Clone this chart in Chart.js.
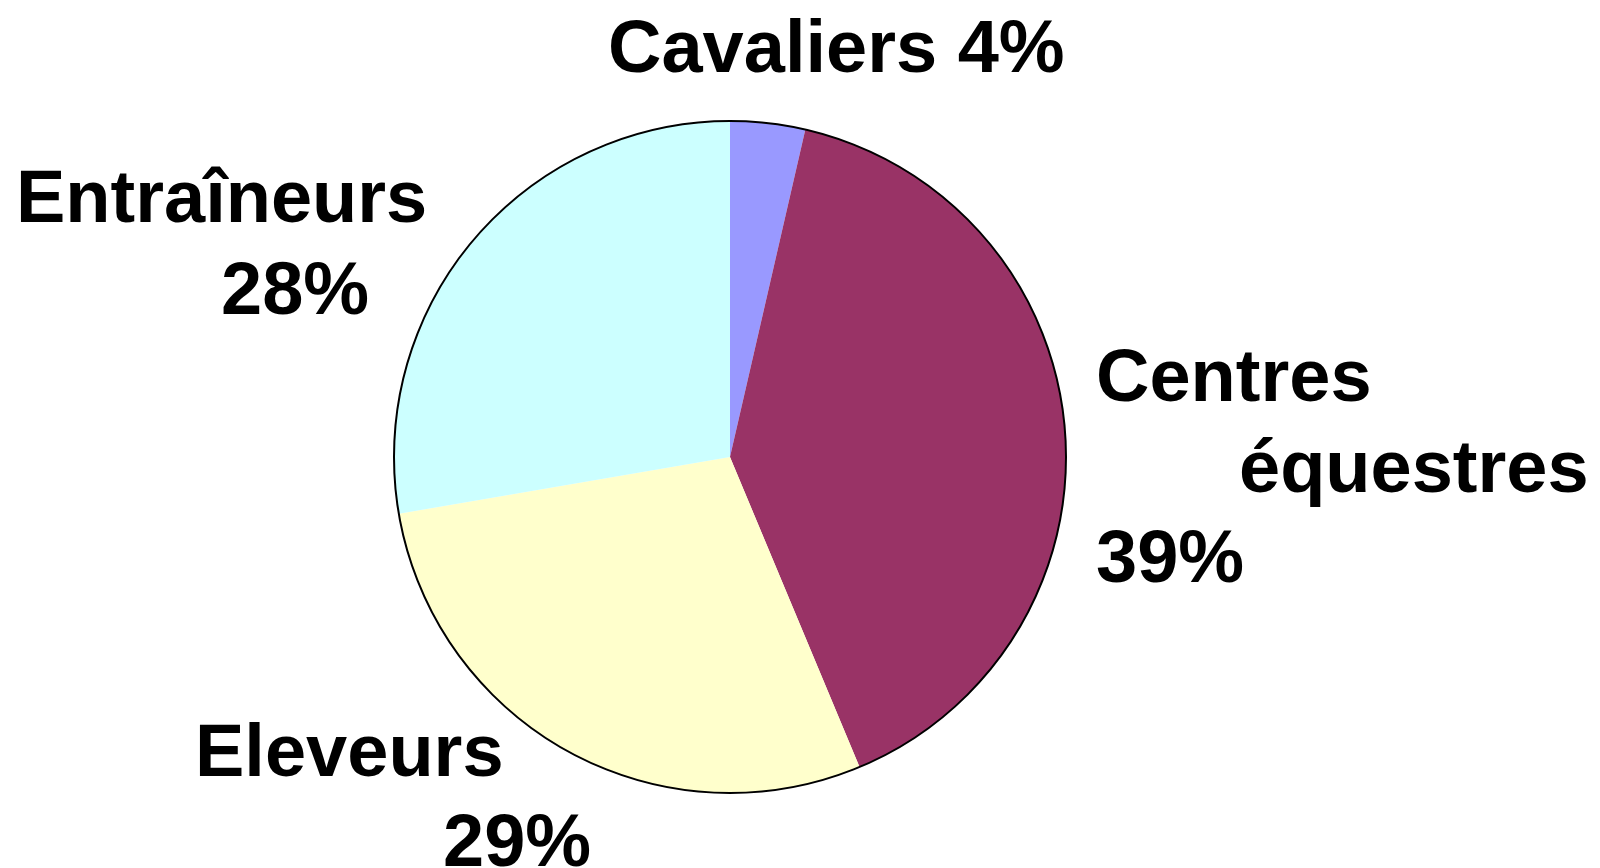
<!DOCTYPE html>
<html>
<head>
<meta charset="utf-8">
<script src="https://cdn.jsdelivr.net/npm/chart.js@4/dist/chart.umd.min.js"></script>
<style>
  html, body { margin: 0; padding: 0; background: #ffffff; }
  #wrap { width: 1600px; height: 868px; }
</style>
</head>
<body>
<div id="wrap"><canvas id="c" width="1600" height="868"></canvas></div>
<script>
// ---- data ----
const categories = ["Cavaliers", "Centres équestres", "Eleveurs", "Entraîneurs"];
const values = [3.6, 40.1, 28.6, 27.7];
// percentages as printed on the labels
const printedPercents = ["4%", "39%", "29%", "28%"];
const sliceColors = ["#9999FF", "#993366", "#FFFFCC", "#CCFFFF"];
// label text, line by line
const labelLines = [
  ["Cavaliers " + printedPercents[0]],
  ["Centres", "équestres", printedPercents[1]],
  ["Eleveurs", printedPercents[2]],
  ["Entraîneurs", printedPercents[3]]
];

// ---- layout for label lines: [left x, baseline y] per line ----
const labelPos = [
  [[608, 72]],
  [[1096, 401], [1239, 492], [1096, 582]],
  [[195, 776], [443, 866]],
  [[16, 222], [221, 314]]
];

const outlinePlugin = {
  id: 'outline',
  afterDatasetsDraw(chart) {
    const meta = chart.getDatasetMeta(0);
    const arc = meta.data[0];
    if (!arc) return;
    const ctx = chart.ctx;
    ctx.save();
    ctx.beginPath();
    ctx.arc(arc.x, arc.y, arc.outerRadius, 0, Math.PI * 2);
    ctx.lineWidth = 2;
    ctx.strokeStyle = '#000000';
    ctx.stroke();
    ctx.restore();
  }
};

const labelPlugin = {
  id: 'sliceLabels',
  afterDraw(chart) {
    const ctx = chart.ctx;
    ctx.save();
    ctx.fillStyle = '#000000';
    ctx.font = 'bold 74px "Liberation Sans", Arial, sans-serif';
    ctx.textAlign = 'left';
    ctx.textBaseline = 'alphabetic';
    labelLines.forEach((lines, i) => {
      lines.forEach((txt, j) => {
        const p = labelPos[i][j];
        ctx.fillText(txt, p[0], p[1]);
      });
    });
    ctx.restore();
  }
};

new Chart(document.getElementById('c'), {
  type: 'pie',
  data: {
    labels: categories,
    datasets: [{
      data: values,
      backgroundColor: sliceColors,
      borderWidth: 0
    }]
  },
  options: {
    responsive: false,
    animation: false,
    layout: { padding: { top: 121, bottom: 75, left: 394, right: 534 } },
    plugins: {
      legend: { display: false },
      tooltip: { enabled: false }
    }
  },
  plugins: [outlinePlugin, labelPlugin]
});
</script>
</body>
</html>
